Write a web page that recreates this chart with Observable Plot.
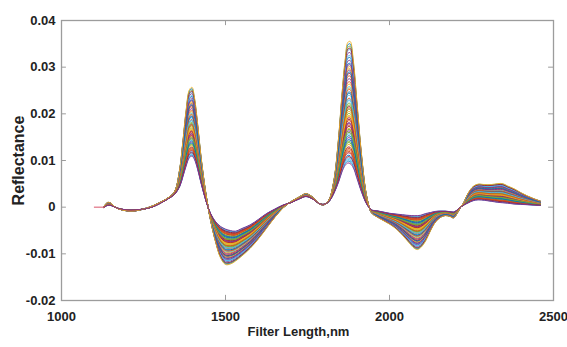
<!DOCTYPE html>
<html><head><meta charset="utf-8">
<script src="https://cdn.jsdelivr.net/npm/d3@7"></script>
<script src="https://cdn.jsdelivr.net/npm/@observablehq/plot@0.6"></script>
<style>body{margin:0;background:#fff}</style>
</head><body><div id="chart"></div>
<script>
// Wavelength grid (nm)
const wavelengths = [1130,1140,1150,1160,1175,1200,1225,1250,1275,1300,1325,1345,1360,1370,1380,1390,1398,1405,1415,1425,1440,1455,1470,1485,1500,1515,1530,1550,1575,1600,1625,1650,1675,1700,1725,1745,1765,1785,1800,1815,1830,1845,1855,1865,1873,1880,1890,1900,1915,1930,1945,1960,1980,2000,2020,2040,2060,2075,2085,2095,2110,2125,2140,2155,2170,2185,2195,2205,2215,2225,2240,2255,2270,2290,2310,2330,2345,2360,2380,2400,2420,2440,2460];
// Spectrum of the strongest sample (outer envelope)
const strongest = [0.0002,0.0010,0.0009,0.0002,-0.0004,-0.0008,-0.0008,-0.0004,0.0002,0.0010,0.0020,0.0034,0.0080,0.0140,0.0207,0.0250,0.0255,0.0235,0.0178,0.0110,0.0030,-0.0030,-0.0075,-0.0108,-0.0122,-0.0121,-0.0115,-0.0104,-0.0088,-0.0068,-0.0045,-0.0022,-0.0002,0.0012,0.0022,0.0029,0.0022,0.0008,0.0005,0.0015,0.0055,0.0150,0.0240,0.0315,0.0350,0.0352,0.0310,0.0230,0.0110,0.0025,-0.0012,-0.0020,-0.0028,-0.0036,-0.0046,-0.0060,-0.0076,-0.0087,-0.0090,-0.0086,-0.0072,-0.0050,-0.0032,-0.0022,-0.0018,-0.0020,-0.0023,-0.0015,-0.0002,0.0008,0.0030,0.0044,0.0049,0.0048,0.0048,0.0050,0.0050,0.0045,0.0039,0.0031,0.0024,0.0018,0.0013];
// Spectrum of the weakest sample (inner envelope)
const weakest = [0.0000,0.0004,0.0004,0.0001,-0.0003,-0.0006,-0.0006,-0.0004,0.0000,0.0008,0.0018,0.0028,0.0045,0.0068,0.0093,0.0112,0.0115,0.0108,0.0085,0.0055,0.0015,-0.0015,-0.0033,-0.0044,-0.0050,-0.0053,-0.0054,-0.0048,-0.0040,-0.0028,-0.0015,-0.0005,0.0004,0.0010,0.0018,0.0023,0.0018,0.0008,0.0006,0.0012,0.0030,0.0058,0.0082,0.0099,0.0105,0.0104,0.0093,0.0070,0.0035,0.0008,-0.0006,-0.0008,-0.0011,-0.0014,-0.0016,-0.0018,-0.0020,-0.0021,-0.0021,-0.0020,-0.0016,-0.0013,-0.0010,-0.0009,-0.0009,-0.0010,-0.0011,-0.0007,-0.0001,0.0004,0.0010,0.0015,0.0017,0.0016,0.0014,0.0012,0.0011,0.0010,0.0008,0.0007,0.0006,0.0005,0.0004];
// Peak height near 1875 nm of each plotted sample, in drawing order
const peakHeights = [0.0121,0.0284,0.0176,0.0332,0.0150,0.0233,0.0198,0.0310,0.0132,0.0259,0.0188,0.0345,0.0165,0.0221,0.0109,0.0272,0.0143,0.0296,0.0207,0.0244,0.0126,0.0322,0.0183,0.0267,0.0157,0.0215,0.0338,0.0138,0.0251,0.0192,0.0303,0.0171,0.0228,0.0115,0.0289,0.0161,0.0238,0.0203,0.0316,0.0147,0.0262,0.0180,0.0350,0.0129,0.0211,0.0278,0.0168,0.0326,0.0195,0.0248,0.0135,0.0299,0.0186,0.0224,0.0112,0.0341,0.0153,0.0256,0.0201,0.0307,0.0174,0.0235,0.0118,0.0292,0.0218,0.0355,0.0105];
// Short lead-in of one sample before the others start
const leadWl = [1100, 1130];
const leadVal = [0, 0];
const xTicks = [1000, 1500, 2000, 2500];
const yTicks = [-0.02, -0.01, 0, 0.01, 0.02, 0.03, 0.04];
const palette = ["#0072BD","#D95319","#EDB120","#7E2F8E","#77AC30","#4DBEEE","#A2142F"];

const pMax = d3.max(strongest), pMin = d3.max(weakest);
const rows = [];
peakHeights.forEach((p, s) => {
  const t = (p - pMin) / (pMax - pMin);
  wavelengths.forEach((w, i) => {
    rows.push({wl: w, v: weakest[i] + t * (strongest[i] - weakest[i]), s, c: palette[s % palette.length]});
  });
});
const lead = leadWl.map((w, i) => ({wl: w, v: leadVal[i]}));

const gray = "#9c9c9c";
const font = "'Liberation Sans',Arial,sans-serif";
const fmt = d => String(+d.toFixed(2));

const chart = Plot.plot({
  width: 567, height: 347,
  marginLeft: 61, marginRight: 14, marginTop: 20, marginBottom: 47,
  style: {fontFamily: font, fontWeight: "bold", fontSize: "13px", color: "#222", background: "#fff"},
  x: {domain: [1000, 2500], axis: null},
  y: {domain: [-0.02, 0.04], axis: null},
  color: {type: "identity"},
  marks: [
    Plot.line(rows, {x: "wl", y: "v", z: "s", stroke: "c", strokeWidth: 1, strokeOpacity: 0.9, curve: "catmull-rom"}),
    Plot.line(lead, {x: "wl", y: "v", stroke: "#D9546A", strokeWidth: 1}),
    Plot.frame({stroke: gray, strokeWidth: 1.3}),
    Plot.ruleY(yTicks, {x1: 1000, x2: 1015, stroke: gray}),
    Plot.ruleY(yTicks, {x1: 2485, x2: 2500, stroke: gray}),
    Plot.ruleX(xTicks, {y1: -0.02, y2: -0.0189, stroke: gray}),
    Plot.ruleX(xTicks, {y1: 0.04, y2: 0.0389, stroke: gray}),
    Plot.axisY(yTicks, {anchor: "left", tickSize: 0, tickPadding: 6, tickFormat: fmt, fontSize: 13, label: null}),
    Plot.axisX(xTicks, {anchor: "bottom", tickSize: 0, tickPadding: 11, tickFormat: d => String(d), fontSize: 13, label: null}),
    Plot.text(["Filter Length,nm"], {frameAnchor: "bottom", textAnchor: "middle", dx: -9, dy: 35, fontSize: 13, fill: "#222"}),
    Plot.text(["Reflectance"], {frameAnchor: "left", textAnchor: "middle", dx: -43, rotate: -90, fontSize: 16, fill: "#222"})
  ]
});
document.getElementById("chart").append(chart);
</script>
</body></html>
